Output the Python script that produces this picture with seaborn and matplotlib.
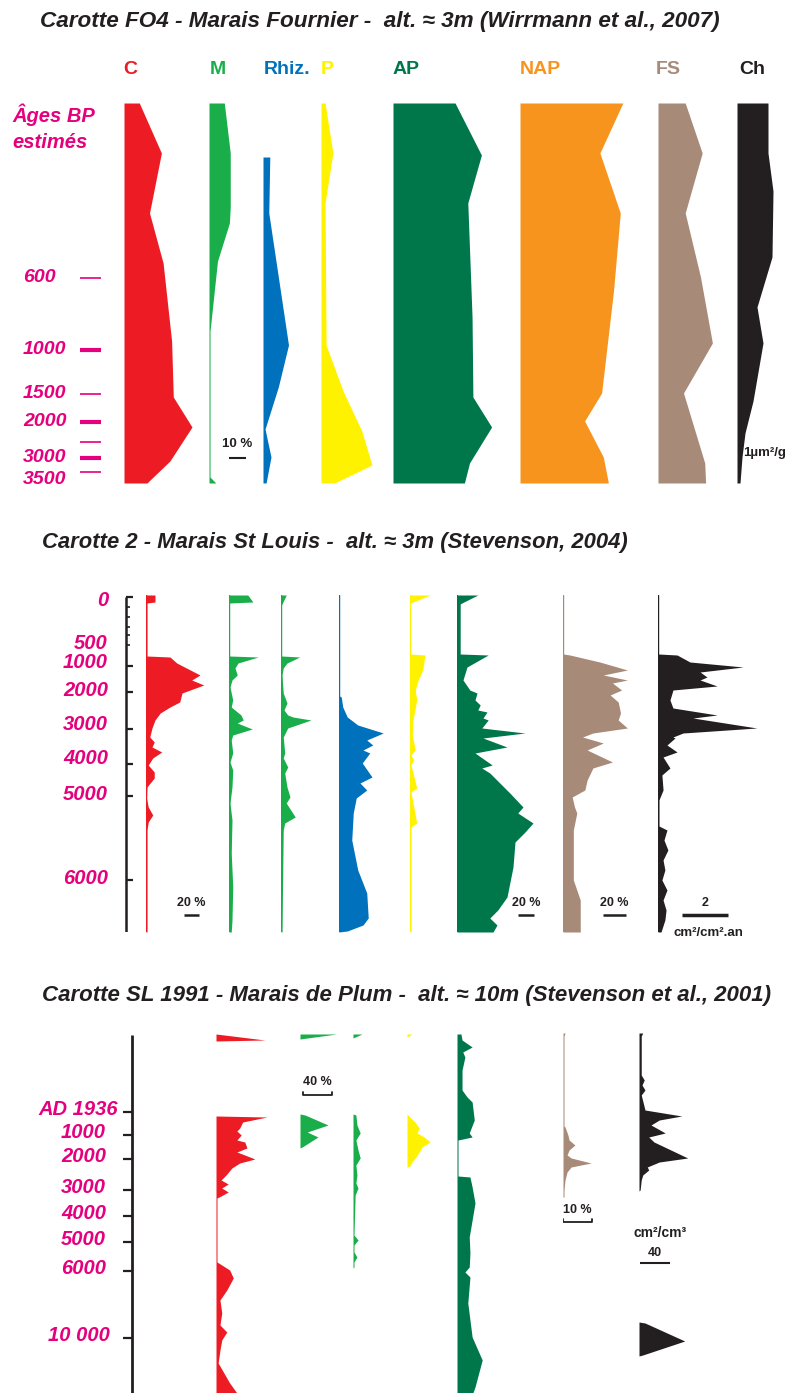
import numpy as np
import pandas as pd
import seaborn as sns
import matplotlib.pyplot as plt

# ---------------- data ----------------
# panel 1 : Carotte FO4 (depth in cm, values in %)
p1_c_d = [0, 25, 55, 80, 119, 147, 162, 179, 190]
p1_c_v = [9, 22, 15, 23, 28, 29, 40, 27, 13.5]
p1_m_d = [0, 25, 52, 60, 79, 114, 187, 190]
p1_m_v = [9, 12.5, 12.5, 12, 5, 0.6, 0.6, 4]
p1_rh_d = [27, 55, 121, 142, 163, 177, 190]
p1_rh_v = [4, 3.4, 15, 9, 1.2, 4.7, 1.8]
p1_p_d = [0, 25, 50, 121, 144, 164, 181, 190]
p1_p_v = [2.4, 7, 2.4, 3, 13, 24, 30, 8]
p1_ap_d = [0, 26, 50, 107, 147, 162, 180, 190]
p1_ap_v = [36.5, 52, 44, 46.5, 47, 58, 45, 42]
p1_nap_d = [0, 25, 55, 94, 145, 159, 177, 190]
p1_nap_v = [60.5, 47, 59, 55, 48, 38, 49, 52]
p1_fs_d = [0, 25, 55, 87, 120, 145, 180, 190]
p1_fs_v = [16, 26, 16, 25, 32, 15, 27.5, 28]
p1_ch_d = [0, 25, 44, 77, 102, 120, 149, 165, 177, 190]
p1_ch_v = [3.1, 3.1, 3.6, 3.5, 2.0, 2.6, 1.6, 0.8, 0.5, 0.3]
p1_tick_d = [87.5, 123.5, 145.5, 159.5, 169.5, 177.5, 184.5]
p1_tick_bold = [False, True, False, True, False, True, False]
p1_lab = ['600', '1000', '1500', '2000', '3000', '3500']
p1_lab_d = [87.5, 123.5, 145.5, 159.5, 177.5, 188.5]
p1_names = ['C', 'M', 'Rhiz.', 'P', 'AP', 'NAP', 'FS', 'Ch']

# panel 2 : Carotte 2 - Marais St Louis
p2_c_d = [0, 7, 8, 61, 62, 68, 80, 85, 90, 98, 107, 112, 118, 125, 133, 142, 147, 152, 157, 163,
          170, 177, 183, 192, 203, 212, 220, 227, 235, 337]
p2_c_v = [12, 12, 1.3, 1.3, 32, 41, 72, 61, 77, 48, 45, 32, 19, 12, 8, 5, 11, 8, 21, 9,
          3, 11, 11, 1.3, 0.7, 3, 9, 3, 1.3, 1.3]
p2_m_d = [0, 7, 8, 61, 62, 68, 73, 80, 85, 92, 105, 112, 120, 125, 128, 134, 140, 145, 158, 167,
          175, 192, 208, 225, 258, 292, 325, 337]
p2_m_v = [25, 32, 0.7, 0.7, 39, 12, 8, 11, 4, 1.3, 5, 3, 16, 19, 11, 31, 5, 3, 5, 1.3,
          5, 4, 1.3, 4, 3, 5, 4, 3]
p2_m2_d = [0, 10, 61, 62, 68, 73, 80, 98, 108, 115, 120, 122, 125, 133, 142, 158, 163, 172, 178,
           192, 202, 208, 222, 228, 235, 337]
p2_m2_v = [7, 0.7, 0.7, 25, 8, 3, 1.3, 3, 8, 4, 9, 16, 40, 9, 3, 5, 3, 9, 5,
           8, 12, 7, 19, 5, 3, 1.3]
p2_rh_d = [0, 101, 102, 112, 122, 130, 138, 145, 150, 155, 158, 168, 182, 188, 195, 203, 218, 245,
           275, 298, 323, 330, 336, 337]
p2_rh_v = [0.7, 0.7, 3, 5, 11, 25, 59, 37, 45, 32, 41, 31, 44, 28, 37, 23, 19, 17,
           25, 37, 39, 32, 11, 0]
p2_p_d = [0, 8, 59, 60, 75, 85, 95, 105, 125, 140, 155, 160, 165, 170, 193, 197, 228, 232, 337]
p2_p_v = [27, 0.7, 0.7, 20, 17, 11, 7, 9, 4, 3, 7, 1.3, 5, 1.3, 9, 1.3, 9, 1.3, 1.3]
p2_ap_d = [0, 8, 9, 59, 60, 72, 85, 95, 98, 105, 110, 115, 117, 123, 125, 133, 138, 143, 152, 158,
           170, 173, 178, 198, 212, 218, 228, 237, 247, 272, 302, 315, 323, 330, 337]
p2_ap_v = [26, 6, 4, 4, 39, 12.5, 7.5, 16, 25, 22.5, 29, 26, 37.5, 32.5, 39, 31, 85, 32.5, 62.5, 22.5,
           44, 31, 41, 66, 82.5, 76, 95, 85, 72.5, 70, 62.5, 51, 41, 50, 45]
p2_fs_d = [0, 59, 60, 67, 75, 80, 85, 88, 95, 100, 107, 118, 125, 133, 138, 142, 148, 155, 167, 173,
           185, 195, 202, 212, 218, 235, 285, 295, 305, 337]
p2_fs_v = [0.4, 0.4, 6, 32, 56, 35, 56, 43, 51, 41, 48, 50, 48, 56, 26, 17, 35, 21, 43, 26,
           21, 19, 8, 10, 12, 9, 9, 12, 15, 15]
p2_ch_d = [0, 59, 60, 67, 72, 77, 82, 85, 91, 95, 105, 113, 120, 123, 133, 138, 142, 143, 150, 157,
           162, 173, 180, 195, 205, 231, 235, 245, 255, 265, 275, 285, 295, 305, 315, 325, 337]
p2_ch_v = [0.02, 0.02, 0.83, 1.39, 3.7, 1.83, 2.13, 1.83, 2.57, 0.65, 0.52, 0.65, 2.57, 1.52, 4.3,
           1.09, 0.65, 0.74, 0.39, 0.83, 0.22, 0.52, 0.17, 0.22, 0.04, 0.04, 0.39, 0.26, 0.43,
           0.22, 0.3, 0.17, 0.39, 0.22, 0.35, 0.3, 0.13]
p2_major_d = [2, 71, 97, 134, 169, 201, 285]
p2_minor_d = [12, 22, 32, 40, 50]
p2_lab = ['0', '500', '1000', '2000', '3000', '4000', '5000', '6000']
p2_lab_d = [5, 48, 67, 95, 129, 163, 199, 283]

# panel 3 : Carotte SL 1991 - Marais de Plum
p3_c_d = [1, 7, 8, 83, 84, 89, 95, 98, 102, 107, 109, 115, 119, 122, 126, 130, 135, 142, 147, 151,
          155, 159, 163, 165, 227, 229, 237, 245, 257, 267, 280, 292, 299, 307, 317, 330, 350, 360]
p3_c_v = [0, 68, 0, 0, 71, 37, 33, 29, 35, 29, 40, 43, 29, 40, 54, 33, 22, 14, 7, 17,
          8, 17, 7, 1.4, 1.4, 1.4, 19, 24, 15, 5.5, 8, 5.5, 15, 8, 5.5, 3, 19, 29]
p3_m_d = [1, 6, 81, 82, 92, 99, 104, 114, 115]
p3_m_v = [51, 0, 0, 7, 39, 10, 25, 3, 0]
p3_m2_d = [1, 5, 81, 82, 92, 100, 107, 117, 125, 132, 142, 150, 155, 162, 202, 207, 212, 219, 224,
           229, 234, 235]
p3_m2_v = [12.5, 0, 0, 4, 5.5, 10, 4, 7, 10, 4, 5.5, 4, 7, 3, 1.4, 7, 1.4, 1.4, 5.5, 1.4, 1.4, 0]
p3_p_d = [1, 4, 81, 84, 89, 95, 100, 104, 109, 114, 119, 124, 129, 133, 134]
p3_p_v = [7, 0, 0, 4, 11, 17, 14, 24, 32, 21, 17, 12.5, 7, 4, 0]
p3_ap_d = [1, 7, 14, 19, 24, 37, 57, 64, 69, 87, 100, 104, 107, 143, 144, 154, 170, 187, 204, 220,
           234, 239, 244, 270, 287, 304, 327, 354, 360]
p3_ap_v = [5.5, 7, 21, 8, 11, 7, 7, 14, 21, 24, 17, 21, 1.4, 1.4, 18, 21, 25, 21, 17, 18,
           17, 11, 18, 15, 18, 21, 35, 25, 22]
p3_fs_d = [0, 3, 93, 94, 102, 107, 112, 117, 122, 125, 130, 134, 139, 147, 157, 164]
p3_fs_v = [0.7, 0.35, 0.35, 0.7, 1.7, 2.1, 4.1, 2.1, 1.4, 2.8, 9.7, 2.8, 1.4, 0.7, 0.35, 0.35]
p3_ch_d = [0, 3, 42, 47, 52, 57, 62, 77, 83, 87, 92, 100, 104, 109, 125, 129, 134, 137, 142, 147,
           157, 158, 289, 290, 308, 322, 323]
p3_ch_v = [5, 3, 3, 7, 4, 8, 3, 8, 57, 27, 16, 35, 13, 20, 65, 27, 11, 13, 5, 3,
           1.5, 0, 0, 8, 61, 5, 0]
p3_tick_d = [79, 102, 126, 157, 183, 209, 238, 305]
p3_lab = ['AD 1936', '1000', '2000', '3000', '4000', '5000', '6000', '10 000']

titles = ['Carotte FO4 - Marais Fournier -  alt. \u2248 3m (Wirrmann et al., 2007)',
          'Carotte 2 - Marais St Louis -  alt. \u2248 3m (Stevenson, 2004)',
          'Carotte SL 1991 - Marais de Plum -  alt. \u2248 10m (Stevenson et al., 2001)']

# ---------------- style ----------------
RED, GREEN, BLUE, YELLOW = '#ED1C24', '#1AAE4B', '#0071BC', '#FFF200'
DKGREEN, ORANGE, BROWN, BLACK = '#00774A', '#F7941E', '#A88A79', '#231F20'
MAGENTA = '#E5007D'

sns.set_style('white')
plt.rcParams['font.family'] = ['Liberation Sans Narrow', 'Liberation Sans', 'DejaVu Sans']

W, H = 801, 1393
fig = plt.figure(figsize=(W / 100, H / 100), dpi=100)


def box(x0, y0, x1, y1):
    return fig.add_axes([x0 / W, 1 - y1 / H, (x1 - x0) / W, (y1 - y0) / H])


def column(x0, y0, y1, dmax, ppu, depth, vals, color, base=False, width=140):
    ax = box(x0, y0, x0 + width, y1)
    ax.fill_betweenx(depth, 0, vals, color=color, lw=0)
    if base:
        ax.axvline(0, color=color, lw=1)
    ax.set_xlim(0, width / ppu)
    ax.set_ylim(dmax, 0)
    ax.axis('off')
    return ax


def ftext(x, y, s, **kw):
    fig.text(x / W, 1 - y / H, s, **kw)


bi = dict(fontweight='bold', fontstyle='italic')

# ---------- panel 1 ----------
ftext(40, 22, titles[0], fontsize=16.2, color=BLACK, va='center', **bi)
p1 = [(124, 1.7, p1_c_d, p1_c_v, RED), (209, 1.7, p1_m_d, p1_m_v, GREEN),
      (263, 1.7, p1_rh_d, p1_rh_v, BLUE), (321, 1.7, p1_p_d, p1_p_v, YELLOW),
      (393, 1.7, p1_ap_d, p1_ap_v, DKGREEN), (520, 1.7, p1_nap_d, p1_nap_v, ORANGE),
      (658, 1.7, p1_fs_d, p1_fs_v, BROWN), (737, 10, p1_ch_d, p1_ch_v, BLACK)]
axs1 = [column(x0, 103, 483, 190, ppu, d, v, c) for x0, ppu, d, v, c in p1]
for name, xc, (_, _, _, _, c) in zip(p1_names, [130, 218, 287, 327, 406, 540, 668, 752], p1):
    ftext(xc, 70, name, fontsize=14, fontweight='bold', color=c, ha='center', va='center')

ax = axs1[1]
ax.hlines(177.5, 11.8, 21.8, color=BLACK, lw=1.5)
ax.text(16.8, 170.5, '10 %', fontsize=9.5, fontweight='bold', color=BLACK, ha='center', va='center')
axs1[7].text(0.6, 175, '1\u00b5m\u00b2/g', fontsize=9.5, fontweight='bold', color=BLACK, va='center')

age = box(0, 103, 101, 483)
age.set_xlim(0, 101)
age.set_ylim(190, 0)
age.axis('off')
for d, b in zip(p1_tick_d, p1_tick_bold):
    age.hlines(d, 80, 101, color=MAGENTA, lw=3 if b else 1.2)
for s, d in zip(p1_lab, p1_lab_d):
    age.text(23, d, s, fontsize=14, color=MAGENTA, va='center', **bi)
ftext(12, 115, '\u00c2ges BP', fontsize=14.5, color=MAGENTA, va='center', **bi)
ftext(12, 143, 'estim\u00e9s', fontsize=14.5, color=MAGENTA, va='center', **bi)

# ---------- panel 2 ----------
ftext(42, 543, titles[1], fontsize=15.8, color=BLACK, va='center', **bi)
p2 = [(146, 0.75, p2_c_d, p2_c_v, RED), (229, 0.75, p2_m_d, p2_m_v, GREEN),
      (281, 0.75, p2_m2_d, p2_m2_v, GREEN), (339, 0.75, p2_rh_d, p2_rh_v, BLUE),
      (410, 0.75, p2_p_d, p2_p_v, YELLOW), (457, 0.8, p2_ap_d, p2_ap_v, DKGREEN),
      (563, 1.15, p2_fs_d, p2_fs_v, BROWN), (658, 23, p2_ch_d, p2_ch_v, BLACK)]
axs2 = [column(x0, 595, 932, 337, ppu, d, v, c, base=True) for x0, ppu, d, v, c in p2]

sk = dict(fontsize=9, fontweight='bold', color=BLACK, ha='center', va='center')
for ax, (a, b) in [(axs2[0], (50.7, 70.7)), (axs2[5], (76, 96)), (axs2[6], (35, 55))]:
    ax.hlines(320, a, b, color=BLACK, lw=1.8)
    ax.text((a + b) / 2, 308, '20 %', **sk)
axs2[7].hlines(320, 1.04, 3.04, color=BLACK, lw=2.5)
axs2[7].text(2.04, 308, '2', **sk)
axs2[7].text(2.2, 338, 'cm\u00b2/cm\u00b2.an', fontsize=9.5, fontweight='bold', color=BLACK,
             ha='center', va='center')

age2 = box(0, 595, 140, 932)
age2.set_xlim(0, 140)
age2.set_ylim(337, 0)
age2.axis('off')
age2.vlines(126, 2, 337, color=BLACK, lw=1.8)
age2.hlines(p2_major_d, 126, 133, color=BLACK, lw=1.6)
age2.hlines(p2_minor_d, 126, 129.5, color=BLACK, lw=1.2)
for s, d in zip(p2_lab, p2_lab_d):
    age2.text(108, d, s, fontsize=14.5, color=MAGENTA, ha='right', va='center', **bi)

# ---------- panel 3 ----------
ftext(42, 995, titles[2], fontsize=16, color=BLACK, va='center', **bi)
p3 = [(216, 0.72, p3_c_d, p3_c_v, RED), (300, 0.72, p3_m_d, p3_m_v, GREEN),
      (353, 0.72, p3_m2_d, p3_m2_v, GREEN), (407, 0.72, p3_p_d, p3_p_v, YELLOW),
      (457, 0.72, p3_ap_d, p3_ap_v, DKGREEN), (563, 2.9, p3_fs_d, p3_fs_v, BROWN),
      (639, 0.75, p3_ch_d, p3_ch_v, BLACK)]
axs3 = [column(x0, 1033, 1393, 360, ppu, d, v, c) for x0, ppu, d, v, c in p3]

ax = axs3[1]
ax.plot([4, 4, 44, 44], [59, 62, 62, 59], color=BLACK, lw=1.3)
ax.text(24, 49, '40 %', **sk)
ax = axs3[5]
ax.plot([0, 0, 10, 10], [186, 189, 189, 186], color=BLACK, lw=1.3)
ax.text(5, 177, '10 %', **sk)
ax = axs3[6]
ax.hlines(230, 1.3, 41.3, color=BLACK, lw=1.5)
ax.text(21.3, 220, '40', **sk)
ax.text(28, 200, 'cm\u00b2/cm\u00b3', fontsize=10, fontweight='bold', color=BLACK,
        ha='center', va='center')

age3 = box(0, 1033, 140, 1393)
age3.set_xlim(0, 140)
age3.set_ylim(360, 0)
age3.axis('off')
age3.vlines(132, 2, 360, color=BLACK, lw=2)
age3.hlines(p3_tick_d, 123, 132, color=BLACK, lw=1.6)
for s, d in zip(p3_lab, p3_tick_d):
    xr = 118 if s.startswith('AD') else (110 if ' ' in s else 106)
    age3.text(xr, d - 2.5, s, fontsize=14.5, color=MAGENTA, ha='right', va='center', **bi)

fig.savefig('out.png', dpi=100, facecolor='white')
